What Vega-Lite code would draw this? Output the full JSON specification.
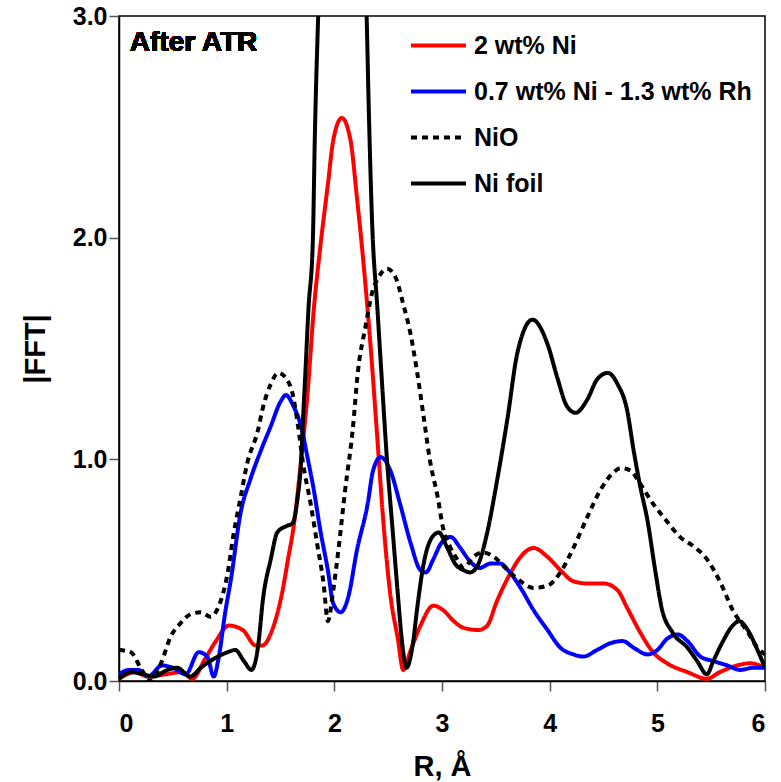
{
  "$schema": "https://vega.github.io/schema/vega-lite/v6.json",
  "width": 646,
  "height": 665,
  "autosize": "none",
  "padding": {"left": 119, "top": 16, "right": 16, "bottom": 101},
  "background": "white",
  "config": {
    "view": {"stroke": "black", "strokeWidth": 1.5},
    "font": "Liberation Sans",
    "axis": {
      "grid": false,
      "domainColor": "black",
      "domainWidth": 1.5,
      "tickColor": "#555555",
      "tickSize": 10,
      "tickWidth": 1.5,
      "labelFont": "Liberation Sans",
      "labelFontWeight": "bold",
      "labelFontSize": 25,
      "labelColor": "black",
      "titleFont": "Liberation Sans",
      "titleFontWeight": "bold",
      "titleFontSize": 29,
      "titleColor": "black"
    }
  },
  "data": {"values": [
    {"s":"2 wt% Ni","R":0.00,"F":0.01},{"s":"2 wt% Ni","R":0.15,"F":0.04},{"s":"2 wt% Ni","R":0.27,"F":0.02},{"s":"2 wt% Ni","R":0.43,"F":0.03},{"s":"2 wt% Ni","R":0.59,"F":0.04},{"s":"2 wt% Ni","R":0.68,"F":0.01},{"s":"2 wt% Ni","R":0.80,"F":0.10},{"s":"2 wt% Ni","R":0.90,"F":0.18},{"s":"2 wt% Ni","R":1.02,"F":0.25},{"s":"2 wt% Ni","R":1.15,"F":0.23},{"s":"2 wt% Ni","R":1.27,"F":0.16},{"s":"2 wt% Ni","R":1.33,"F":0.16},{"s":"2 wt% Ni","R":1.43,"F":0.24},{"s":"2 wt% Ni","R":1.52,"F":0.41},{"s":"2 wt% Ni","R":1.57,"F":0.55},{"s":"2 wt% Ni","R":1.62,"F":0.69},{"s":"2 wt% Ni","R":1.69,"F":0.99},{"s":"2 wt% Ni","R":1.75,"F":1.29},{"s":"2 wt% Ni","R":1.81,"F":1.68},{"s":"2 wt% Ni","R":1.87,"F":1.96},{"s":"2 wt% Ni","R":1.94,"F":2.24},{"s":"2 wt% Ni","R":1.99,"F":2.44},{"s":"2 wt% Ni","R":2.07,"F":2.54},{"s":"2 wt% Ni","R":2.15,"F":2.44},{"s":"2 wt% Ni","R":2.21,"F":2.18},{"s":"2 wt% Ni","R":2.27,"F":1.89},{"s":"2 wt% Ni","R":2.34,"F":1.49},{"s":"2 wt% Ni","R":2.40,"F":1.09},{"s":"2 wt% Ni","R":2.46,"F":0.69},{"s":"2 wt% Ni","R":2.52,"F":0.39},{"s":"2 wt% Ni","R":2.59,"F":0.19},{"s":"2 wt% Ni","R":2.64,"F":0.05},{"s":"2 wt% Ni","R":2.71,"F":0.14},{"s":"2 wt% Ni","R":2.80,"F":0.25},{"s":"2 wt% Ni","R":2.92,"F":0.34},{"s":"2 wt% Ni","R":3.01,"F":0.32},{"s":"2 wt% Ni","R":3.11,"F":0.27},{"s":"2 wt% Ni","R":3.20,"F":0.24},{"s":"2 wt% Ni","R":3.34,"F":0.23},{"s":"2 wt% Ni","R":3.42,"F":0.25},{"s":"2 wt% Ni","R":3.51,"F":0.36},{"s":"2 wt% Ni","R":3.64,"F":0.49},{"s":"2 wt% Ni","R":3.73,"F":0.56},{"s":"2 wt% Ni","R":3.85,"F":0.60},{"s":"2 wt% Ni","R":3.98,"F":0.56},{"s":"2 wt% Ni","R":4.10,"F":0.50},{"s":"2 wt% Ni","R":4.22,"F":0.45},{"s":"2 wt% Ni","R":4.35,"F":0.44},{"s":"2 wt% Ni","R":4.50,"F":0.44},{"s":"2 wt% Ni","R":4.63,"F":0.41},{"s":"2 wt% Ni","R":4.72,"F":0.33},{"s":"2 wt% Ni","R":4.84,"F":0.22},{"s":"2 wt% Ni","R":4.96,"F":0.13},{"s":"2 wt% Ni","R":5.09,"F":0.08},{"s":"2 wt% Ni","R":5.28,"F":0.04},{"s":"2 wt% Ni","R":5.46,"F":0.01},{"s":"2 wt% Ni","R":5.58,"F":0.04},{"s":"2 wt% Ni","R":5.74,"F":0.07},{"s":"2 wt% Ni","R":5.86,"F":0.08},{"s":"2 wt% Ni","R":6.00,"F":0.06},
    {"s":"0.7 wt% Ni - 1.3 wt% Rh","R":0.00,"F":0.03},{"s":"0.7 wt% Ni - 1.3 wt% Rh","R":0.09,"F":0.05},{"s":"0.7 wt% Ni - 1.3 wt% Rh","R":0.18,"F":0.05},{"s":"0.7 wt% Ni - 1.3 wt% Rh","R":0.27,"F":0.02},{"s":"0.7 wt% Ni - 1.3 wt% Rh","R":0.40,"F":0.07},{"s":"0.7 wt% Ni - 1.3 wt% Rh","R":0.50,"F":0.06},{"s":"0.7 wt% Ni - 1.3 wt% Rh","R":0.62,"F":0.03},{"s":"0.7 wt% Ni - 1.3 wt% Rh","R":0.74,"F":0.13},{"s":"0.7 wt% Ni - 1.3 wt% Rh","R":0.82,"F":0.11},{"s":"0.7 wt% Ni - 1.3 wt% Rh","R":0.88,"F":0.02},{"s":"0.7 wt% Ni - 1.3 wt% Rh","R":0.92,"F":0.09},{"s":"0.7 wt% Ni - 1.3 wt% Rh","R":0.99,"F":0.32},{"s":"0.7 wt% Ni - 1.3 wt% Rh","R":1.04,"F":0.46},{"s":"0.7 wt% Ni - 1.3 wt% Rh","R":1.13,"F":0.76},{"s":"0.7 wt% Ni - 1.3 wt% Rh","R":1.22,"F":0.91},{"s":"0.7 wt% Ni - 1.3 wt% Rh","R":1.31,"F":1.03},{"s":"0.7 wt% Ni - 1.3 wt% Rh","R":1.41,"F":1.15},{"s":"0.7 wt% Ni - 1.3 wt% Rh","R":1.50,"F":1.26},{"s":"0.7 wt% Ni - 1.3 wt% Rh","R":1.55,"F":1.29},{"s":"0.7 wt% Ni - 1.3 wt% Rh","R":1.62,"F":1.24},{"s":"0.7 wt% Ni - 1.3 wt% Rh","R":1.69,"F":1.15},{"s":"0.7 wt% Ni - 1.3 wt% Rh","R":1.75,"F":1.01},{"s":"0.7 wt% Ni - 1.3 wt% Rh","R":1.81,"F":0.86},{"s":"0.7 wt% Ni - 1.3 wt% Rh","R":1.87,"F":0.68},{"s":"0.7 wt% Ni - 1.3 wt% Rh","R":1.94,"F":0.50},{"s":"0.7 wt% Ni - 1.3 wt% Rh","R":1.99,"F":0.35},{"s":"0.7 wt% Ni - 1.3 wt% Rh","R":2.06,"F":0.31},{"s":"0.7 wt% Ni - 1.3 wt% Rh","R":2.13,"F":0.38},{"s":"0.7 wt% Ni - 1.3 wt% Rh","R":2.21,"F":0.59},{"s":"0.7 wt% Ni - 1.3 wt% Rh","R":2.31,"F":0.80},{"s":"0.7 wt% Ni - 1.3 wt% Rh","R":2.36,"F":0.95},{"s":"0.7 wt% Ni - 1.3 wt% Rh","R":2.43,"F":1.01},{"s":"0.7 wt% Ni - 1.3 wt% Rh","R":2.52,"F":0.95},{"s":"0.7 wt% Ni - 1.3 wt% Rh","R":2.61,"F":0.80},{"s":"0.7 wt% Ni - 1.3 wt% Rh","R":2.71,"F":0.62},{"s":"0.7 wt% Ni - 1.3 wt% Rh","R":2.80,"F":0.50},{"s":"0.7 wt% Ni - 1.3 wt% Rh","R":2.85,"F":0.49},{"s":"0.7 wt% Ni - 1.3 wt% Rh","R":2.92,"F":0.55},{"s":"0.7 wt% Ni - 1.3 wt% Rh","R":2.99,"F":0.62},{"s":"0.7 wt% Ni - 1.3 wt% Rh","R":3.08,"F":0.65},{"s":"0.7 wt% Ni - 1.3 wt% Rh","R":3.17,"F":0.60},{"s":"0.7 wt% Ni - 1.3 wt% Rh","R":3.26,"F":0.54},{"s":"0.7 wt% Ni - 1.3 wt% Rh","R":3.35,"F":0.51},{"s":"0.7 wt% Ni - 1.3 wt% Rh","R":3.45,"F":0.53},{"s":"0.7 wt% Ni - 1.3 wt% Rh","R":3.54,"F":0.53},{"s":"0.7 wt% Ni - 1.3 wt% Rh","R":3.63,"F":0.49},{"s":"0.7 wt% Ni - 1.3 wt% Rh","R":3.73,"F":0.42},{"s":"0.7 wt% Ni - 1.3 wt% Rh","R":3.85,"F":0.32},{"s":"0.7 wt% Ni - 1.3 wt% Rh","R":3.98,"F":0.23},{"s":"0.7 wt% Ni - 1.3 wt% Rh","R":4.10,"F":0.15},{"s":"0.7 wt% Ni - 1.3 wt% Rh","R":4.22,"F":0.12},{"s":"0.7 wt% Ni - 1.3 wt% Rh","R":4.31,"F":0.11},{"s":"0.7 wt% Ni - 1.3 wt% Rh","R":4.44,"F":0.14},{"s":"0.7 wt% Ni - 1.3 wt% Rh","R":4.56,"F":0.17},{"s":"0.7 wt% Ni - 1.3 wt% Rh","R":4.68,"F":0.18},{"s":"0.7 wt% Ni - 1.3 wt% Rh","R":4.78,"F":0.15},{"s":"0.7 wt% Ni - 1.3 wt% Rh","R":4.91,"F":0.12},{"s":"0.7 wt% Ni - 1.3 wt% Rh","R":5.00,"F":0.14},{"s":"0.7 wt% Ni - 1.3 wt% Rh","R":5.09,"F":0.19},{"s":"0.7 wt% Ni - 1.3 wt% Rh","R":5.19,"F":0.21},{"s":"0.7 wt% Ni - 1.3 wt% Rh","R":5.28,"F":0.18},{"s":"0.7 wt% Ni - 1.3 wt% Rh","R":5.40,"F":0.11},{"s":"0.7 wt% Ni - 1.3 wt% Rh","R":5.52,"F":0.09},{"s":"0.7 wt% Ni - 1.3 wt% Rh","R":5.65,"F":0.07},{"s":"0.7 wt% Ni - 1.3 wt% Rh","R":5.77,"F":0.05},{"s":"0.7 wt% Ni - 1.3 wt% Rh","R":5.89,"F":0.06},{"s":"0.7 wt% Ni - 1.3 wt% Rh","R":6.00,"F":0.06},
    {"s":"NiO","R":0.00,"F":0.14},{"s":"NiO","R":0.11,"F":0.13},{"s":"NiO","R":0.20,"F":0.06},{"s":"NiO","R":0.29,"F":0.00},{"s":"NiO","R":0.39,"F":0.08},{"s":"NiO","R":0.48,"F":0.20},{"s":"NiO","R":0.57,"F":0.26},{"s":"NiO","R":0.66,"F":0.30},{"s":"NiO","R":0.76,"F":0.31},{"s":"NiO","R":0.85,"F":0.29},{"s":"NiO","R":0.92,"F":0.33},{"s":"NiO","R":1.01,"F":0.49},{"s":"NiO","R":1.06,"F":0.65},{"s":"NiO","R":1.13,"F":0.83},{"s":"NiO","R":1.19,"F":0.98},{"s":"NiO","R":1.29,"F":1.13},{"s":"NiO","R":1.34,"F":1.24},{"s":"NiO","R":1.41,"F":1.34},{"s":"NiO","R":1.48,"F":1.39},{"s":"NiO","R":1.56,"F":1.36},{"s":"NiO","R":1.61,"F":1.30},{"s":"NiO","R":1.66,"F":1.16},{"s":"NiO","R":1.71,"F":0.98},{"s":"NiO","R":1.78,"F":0.80},{"s":"NiO","R":1.84,"F":0.62},{"s":"NiO","R":1.90,"F":0.44},{"s":"NiO","R":1.94,"F":0.27},{"s":"NiO","R":1.99,"F":0.41},{"s":"NiO","R":2.04,"F":0.60},{"s":"NiO","R":2.10,"F":0.86},{"s":"NiO","R":2.17,"F":1.13},{"s":"NiO","R":2.22,"F":1.40},{"s":"NiO","R":2.29,"F":1.60},{"s":"NiO","R":2.35,"F":1.75},{"s":"NiO","R":2.41,"F":1.82},{"s":"NiO","R":2.49,"F":1.86},{"s":"NiO","R":2.57,"F":1.82},{"s":"NiO","R":2.64,"F":1.70},{"s":"NiO","R":2.71,"F":1.56},{"s":"NiO","R":2.77,"F":1.39},{"s":"NiO","R":2.83,"F":1.19},{"s":"NiO","R":2.89,"F":0.99},{"s":"NiO","R":2.96,"F":0.83},{"s":"NiO","R":3.01,"F":0.69},{"s":"NiO","R":3.08,"F":0.60},{"s":"NiO","R":3.14,"F":0.55},{"s":"NiO","R":3.20,"F":0.51},{"s":"NiO","R":3.29,"F":0.56},{"s":"NiO","R":3.38,"F":0.58},{"s":"NiO","R":3.48,"F":0.56},{"s":"NiO","R":3.61,"F":0.50},{"s":"NiO","R":3.73,"F":0.45},{"s":"NiO","R":3.85,"F":0.42},{"s":"NiO","R":3.98,"F":0.43},{"s":"NiO","R":4.10,"F":0.49},{"s":"NiO","R":4.22,"F":0.60},{"s":"NiO","R":4.35,"F":0.74},{"s":"NiO","R":4.47,"F":0.86},{"s":"NiO","R":4.59,"F":0.94},{"s":"NiO","R":4.66,"F":0.96},{"s":"NiO","R":4.75,"F":0.95},{"s":"NiO","R":4.84,"F":0.89},{"s":"NiO","R":4.96,"F":0.80},{"s":"NiO","R":5.09,"F":0.72},{"s":"NiO","R":5.21,"F":0.65},{"s":"NiO","R":5.33,"F":0.61},{"s":"NiO","R":5.46,"F":0.55},{"s":"NiO","R":5.59,"F":0.44},{"s":"NiO","R":5.70,"F":0.32},{"s":"NiO","R":5.84,"F":0.22},{"s":"NiO","R":5.93,"F":0.15},{"s":"NiO","R":6.00,"F":0.12},
    {"s":"Ni foil","R":0.00,"F":0.01},{"s":"Ni foil","R":0.11,"F":0.04},{"s":"Ni foil","R":0.23,"F":0.03},{"s":"Ni foil","R":0.32,"F":0.02},{"s":"Ni foil","R":0.45,"F":0.05},{"s":"Ni foil","R":0.54,"F":0.06},{"s":"Ni foil","R":0.66,"F":0.02},{"s":"Ni foil","R":0.76,"F":0.06},{"s":"Ni foil","R":0.88,"F":0.10},{"s":"Ni foil","R":1.01,"F":0.13},{"s":"Ni foil","R":1.08,"F":0.14},{"s":"Ni foil","R":1.16,"F":0.09},{"s":"Ni foil","R":1.23,"F":0.05},{"s":"Ni foil","R":1.29,"F":0.15},{"s":"Ni foil","R":1.34,"F":0.38},{"s":"Ni foil","R":1.41,"F":0.55},{"s":"Ni foil","R":1.47,"F":0.67},{"s":"Ni foil","R":1.56,"F":0.70},{"s":"Ni foil","R":1.61,"F":0.71},{"s":"Ni foil","R":1.66,"F":0.83},{"s":"Ni foil","R":1.69,"F":0.98},{"s":"Ni foil","R":1.71,"F":1.19},{"s":"Ni foil","R":1.73,"F":1.38},{"s":"Ni foil","R":1.76,"F":1.68},{"s":"Ni foil","R":1.80,"F":1.98},{"s":"Ni foil","R":1.82,"F":2.48},{"s":"Ni foil","R":1.85,"F":3.00},{"s":"Ni foil","R":1.92,"F":3.80},{"s":"Ni foil","R":2.00,"F":4.40},{"s":"Ni foil","R":2.08,"F":4.60},{"s":"Ni foil","R":2.16,"F":4.40},{"s":"Ni foil","R":2.24,"F":3.70},{"s":"Ni foil","R":2.30,"F":3.00},{"s":"Ni foil","R":2.32,"F":2.58},{"s":"Ni foil","R":2.35,"F":2.08},{"s":"Ni foil","R":2.40,"F":1.68},{"s":"Ni foil","R":2.45,"F":1.29},{"s":"Ni foil","R":2.49,"F":0.99},{"s":"Ni foil","R":2.54,"F":0.69},{"s":"Ni foil","R":2.59,"F":0.39},{"s":"Ni foil","R":2.63,"F":0.17},{"s":"Ni foil","R":2.67,"F":0.06},{"s":"Ni foil","R":2.73,"F":0.17},{"s":"Ni foil","R":2.77,"F":0.33},{"s":"Ni foil","R":2.83,"F":0.53},{"s":"Ni foil","R":2.91,"F":0.65},{"s":"Ni foil","R":2.97,"F":0.67},{"s":"Ni foil","R":3.05,"F":0.60},{"s":"Ni foil","R":3.12,"F":0.53},{"s":"Ni foil","R":3.20,"F":0.50},{"s":"Ni foil","R":3.26,"F":0.49},{"s":"Ni foil","R":3.33,"F":0.52},{"s":"Ni foil","R":3.42,"F":0.67},{"s":"Ni foil","R":3.51,"F":0.90},{"s":"Ni foil","R":3.61,"F":1.19},{"s":"Ni foil","R":3.70,"F":1.48},{"s":"Ni foil","R":3.84,"F":1.63},{"s":"Ni foil","R":3.98,"F":1.52},{"s":"Ni foil","R":4.07,"F":1.37},{"s":"Ni foil","R":4.16,"F":1.24},{"s":"Ni foil","R":4.24,"F":1.21},{"s":"Ni foil","R":4.35,"F":1.27},{"s":"Ni foil","R":4.44,"F":1.36},{"s":"Ni foil","R":4.54,"F":1.39},{"s":"Ni foil","R":4.63,"F":1.34},{"s":"Ni foil","R":4.72,"F":1.22},{"s":"Ni foil","R":4.78,"F":1.04},{"s":"Ni foil","R":4.84,"F":0.88},{"s":"Ni foil","R":4.91,"F":0.72},{"s":"Ni foil","R":4.98,"F":0.50},{"s":"Ni foil","R":5.04,"F":0.33},{"s":"Ni foil","R":5.14,"F":0.22},{"s":"Ni foil","R":5.28,"F":0.15},{"s":"Ni foil","R":5.37,"F":0.09},{"s":"Ni foil","R":5.46,"F":0.03},{"s":"Ni foil","R":5.52,"F":0.09},{"s":"Ni foil","R":5.61,"F":0.18},{"s":"Ni foil","R":5.70,"F":0.25},{"s":"Ni foil","R":5.76,"F":0.27},{"s":"Ni foil","R":5.84,"F":0.23},{"s":"Ni foil","R":5.93,"F":0.14},{"s":"Ni foil","R":6.00,"F":0.06}
  ]},
  "layer": [
    {
      "mark": {"type": "line", "clip": true, "interpolate": "monotone"},
      "encoding": {
        "x": {"field": "R", "type": "quantitative", "scale": {"domain": [0, 6], "nice": false}, "axis": {"values": [0,1,2,3,4,5,6], "format": "d", "title": "R, Å", "labelPadding": 20, "titlePadding": 16}},
        "y": {"field": "F", "type": "quantitative", "scale": {"domain": [0, 3], "nice": false}, "axis": {"values": [0,1,2,3], "format": ".1f", "title": "|FFT|", "labelPadding": 2, "titlePadding": 22}},
        "color": {"field": "s", "type": "nominal", "scale": {"domain": ["2 wt% Ni","0.7 wt% Ni - 1.3 wt% Rh","NiO","Ni foil"], "range": ["#ff0000","#0000ff","#000000","#000000"]},
          "legend": {"orient": "none", "legendX": 290, "legendY": 0, "title": null, "symbolType": "stroke", "symbolSize": 3025, "labelFontSize": 25, "labelLimit": 0, "labelFontWeight": "bold", "labelFont": "Liberation Sans", "labelColor": "black", "labelOffset": 6, "rowPadding": 3, "padding": 0}},
        "strokeDash": {"field": "s", "type": "nominal", "scale": {"domain": ["2 wt% Ni","0.7 wt% Ni - 1.3 wt% Rh","NiO","Ni foil"], "range": [[1,0],[1,0],[6,5],[1,0]]}},
        "strokeWidth": {"field": "s", "type": "nominal", "scale": {"domain": ["2 wt% Ni","0.7 wt% Ni - 1.3 wt% Rh","NiO","Ni foil"], "range": [4,4,1.8,1.8]}},
        "order": {"field": "R"}
      }
    },
    {
      "mark": {"type": "text", "text": "After ATR", "align": "left", "baseline": "alphabetic", "fontSize": 28, "fontWeight": "bold", "font": "Liberation Sans", "color": "black"},
      "encoding": {"x": {"datum": 0.1}, "y": {"datum": 2.84}}
    }
  ]
}
